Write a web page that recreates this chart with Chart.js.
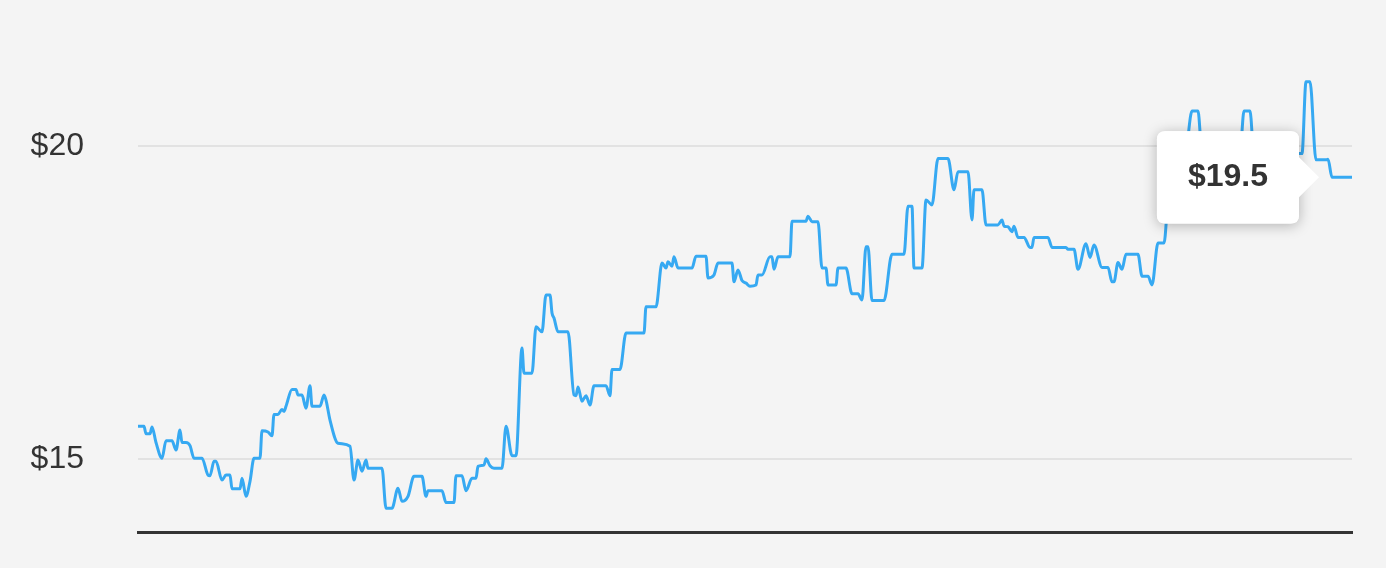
<!DOCTYPE html>
<html>
<head>
<meta charset="utf-8">
<script src="https://cdn.jsdelivr.net/npm/chart.js@4.4.1/dist/chart.umd.min.js"></script>
<style>
  html, body { margin: 0; padding: 0; background: #f4f4f4; }
  #wrap { width: 1386px; height: 568px; position: relative; }
</style>
</head>
<body>
<div id="wrap"><canvas id="price-chart"></canvas></div>
<script>
// trading days (x) and closing price (y)
const days = [
  0, 1.5, 2, 3, 3.5, 4.5, 6, 7, 8.5, 9.5, 10.5, 11, 12, 13, 14, 16, 17.5, 18, 19, 19.5,
  21, 22, 23, 23.5, 25.5, 26, 27, 28, 29, 30.5, 31, 32.5, 33.5, 34, 35, 36, 36.5, 37, 38.5, 39.5,
  40, 41, 42, 43, 43.5, 45.5, 46.5, 47, 48, 50, 53, 54, 55, 56, 57, 57.5, 61, 62, 63.5, 65,
  66, 67.5, 69, 71, 72, 72.5, 76, 77, 79, 79.5, 81, 82, 83.5, 84.5, 85, 86.5, 87, 88, 89, 91,
  92, 93.5, 94.5, 96, 96.5, 98.5, 99.5, 101, 102, 103, 103.5, 104, 105, 107.5, 109, 109.5, 110, 111, 112, 113,
  114, 117, 118, 118.5, 120.5, 122, 126.5, 127, 129.5, 131, 132, 132.5, 133.5, 134, 135, 138.5, 139.5, 142, 142.5, 144,
  145, 148.5, 149, 150, 151, 152, 153, 154.5, 155, 156, 158, 158.5, 159, 160, 163, 163.5, 167, 167.5, 168.5, 170,
  171, 172, 172.5, 174.5, 175, 177, 178.5, 180, 181, 182, 182.5, 183.5, 186.5, 188.5, 191.5, 192.5, 193.5, 194, 196, 197,
  198.5, 200, 202.5, 204, 205, 207.5, 208.5, 209, 211, 212, 215, 216, 216.5, 217.5, 218.5, 219, 220, 221.5, 223, 223.5,
  224, 227.5, 228.5, 232, 232.5, 234, 235, 237, 238, 239, 241, 242.5, 243.5, 244, 245, 246, 247, 250, 251, 252.5,
  253.5, 255, 256.5, 257.5, 258.5, 262, 263.5, 265, 266, 275.5, 276.5, 278, 279, 290, 291, 292, 293, 294.5, 297, 297.5,
  298.5, 303.5
];
const prices = [
  15.52, 15.52, 15.40, 15.40, 15.51, 15.26, 15.01, 15.29, 15.29, 15.14, 15.46, 15.26, 15.26, 15.21, 15.01, 15.01, 14.74, 14.73, 14.96, 14.96,
  14.66, 14.74, 14.74, 14.52, 14.52, 14.69, 14.40, 14.64, 15.01, 15.01, 15.45, 15.43, 15.37, 15.71, 15.71, 15.79, 15.76, 15.84, 16.11, 16.11,
  16.02, 16.02, 15.81, 16.17, 15.84, 15.84, 16.02, 15.94, 15.62, 15.25, 15.20, 14.66, 14.98, 14.80, 14.98, 14.85, 14.85, 14.21, 14.21, 14.53,
  14.32, 14.40, 14.72, 14.72, 14.40, 14.49, 14.49, 14.30, 14.30, 14.73, 14.73, 14.49, 14.69, 14.69, 14.88, 14.90, 15.00, 14.89, 14.85, 14.85,
  15.52, 15.05, 15.05, 16.77, 16.37, 16.37, 17.11, 17.03, 17.62, 17.62, 17.33, 17.25, 17.03, 17.03, 16.02, 16.01, 16.15, 15.92, 16.01, 15.86,
  16.17, 16.17, 16.01, 16.43, 16.43, 17.01, 17.01, 17.43, 17.43, 18.13, 18.05, 18.15, 18.08, 18.23, 18.05, 18.05, 18.24, 18.24, 17.89, 17.94,
  18.13, 18.13, 17.83, 18.02, 17.85, 17.81, 17.76, 17.78, 17.94, 17.94, 18.23, 18.23, 18.03, 18.23, 18.23, 18.80, 18.80, 18.88, 18.79, 18.79,
  18.05, 18.05, 17.78, 17.78, 18.05, 18.05, 17.64, 17.64, 17.54, 18.39, 18.39, 17.53, 17.53, 18.27, 18.27, 19.04, 19.04, 18.05, 18.05, 19.14,
  19.06, 19.80, 19.80, 19.30, 19.59, 19.59, 18.82, 19.30, 19.30, 18.74, 18.74, 18.82, 18.72, 18.71, 18.63, 18.72, 18.54, 18.54, 18.38, 18.38,
  18.54, 18.54, 18.38, 18.38, 18.35, 18.35, 18.03, 18.44, 18.22, 18.42, 18.06, 18.06, 17.83, 17.83, 18.14, 18.03, 18.27, 18.27, 17.92, 17.92,
  17.78, 18.45, 18.45, 19.14, 19.46, 19.90, 20.56, 20.56, 19.90, 19.90, 20.56, 20.56, 19.85, 19.88, 19.88, 21.03, 21.03, 19.78, 19.78, 19.79,
  19.50, 19.50
];
const yTicks = [15, 20];

Chart.defaults.font.family = "'Liberation Sans', Arial, sans-serif";

const points = days.map((d, i) => ({ x: d, y: prices[i] }));

// soft shadow behind the tooltip box
const tooltipShadow = {
  id: "tooltipShadow",
  beforeTooltipDraw: function (chart, args) {
    const tip = args.tooltip;
    if (!tip || tip.opacity === 0) return;
    const ctx = chart.ctx;
    ctx.save();
    ctx.shadowColor = "rgba(0, 0, 0, 0.28)";
    ctx.shadowBlur = 14;
    ctx.shadowOffsetY = 2;
    ctx.fillStyle = "#ffffff";
    ctx.beginPath();
    ctx.roundRect(tip.x, tip.y, tip.width, tip.height, 8);
    ctx.fill();
    ctx.restore();
  },
};

const chart = new Chart(document.getElementById("price-chart"), {
  type: "line",
  data: {
    datasets: [
      {
        label: "Price",
        data: points,
        borderColor: "#36a9f2",
        borderWidth: 3,
        pointRadius: 0,
        pointHoverRadius: 0,
        fill: false,
        cubicInterpolationMode: "monotone",
      },
    ],
  },
  plugins: [tooltipShadow],
  options: {
    animation: false,
    responsive: true,
    maintainAspectRatio: false,
    events: [],
    layout: {
      padding: { top: 21, right: 34, bottom: 36, left: 0 },
    },
    plugins: {
      legend: { display: false },
      tooltip: {
        enabled: true,
        animation: false,
        xAlign: "right",
        yAlign: "center",
        backgroundColor: "#ffffff",
        bodyColor: "#333333",
        bodyFont: { size: 32, weight: "bold" },
        padding: { x: 31, y: 27 },
        cornerRadius: 8,
        caretSize: 20,
        caretPadding: 33,
        displayColors: false,
        callbacks: {
          title: function () {
            return "";
          },
          label: function (ctx) {
            return "$" + ctx.parsed.y;
          },
        },
      },
    },
    scales: {
      x: {
        type: "linear",
        min: days[0],
        max: days[days.length - 1],
        grid: { display: false },
        ticks: { display: false },
        border: { display: true, color: "#333333", width: 3 },
        afterFit: function (scale) {
          scale.height = 0;
          scale.paddingLeft = 0;
          scale.paddingRight = 0;
        },
      },
      y: {
        min: 13.83,
        max: 22.0,
        afterBuildTicks: function (scale) {
          scale.ticks = yTicks.map((v) => ({ value: v }));
        },
        afterFit: function (scale) {
          scale.width = 138;
          scale.paddingTop = 0;
          scale.paddingBottom = 0;
        },
        grid: {
          color: "#e2e2e2",
          lineWidth: 2,
          drawTicks: false,
        },
        border: { display: false },
        ticks: {
          padding: 54,
          color: "#333333",
          font: { size: 32 },
          callback: function (value) {
            return "$" + value;
          },
        },
      },
    },
  },
});

chart.tooltip.setActiveElements([{ datasetIndex: 0, index: prices.length - 1 }], { x: 0, y: 0 });
chart.update();
</script>
</body>
</html>
